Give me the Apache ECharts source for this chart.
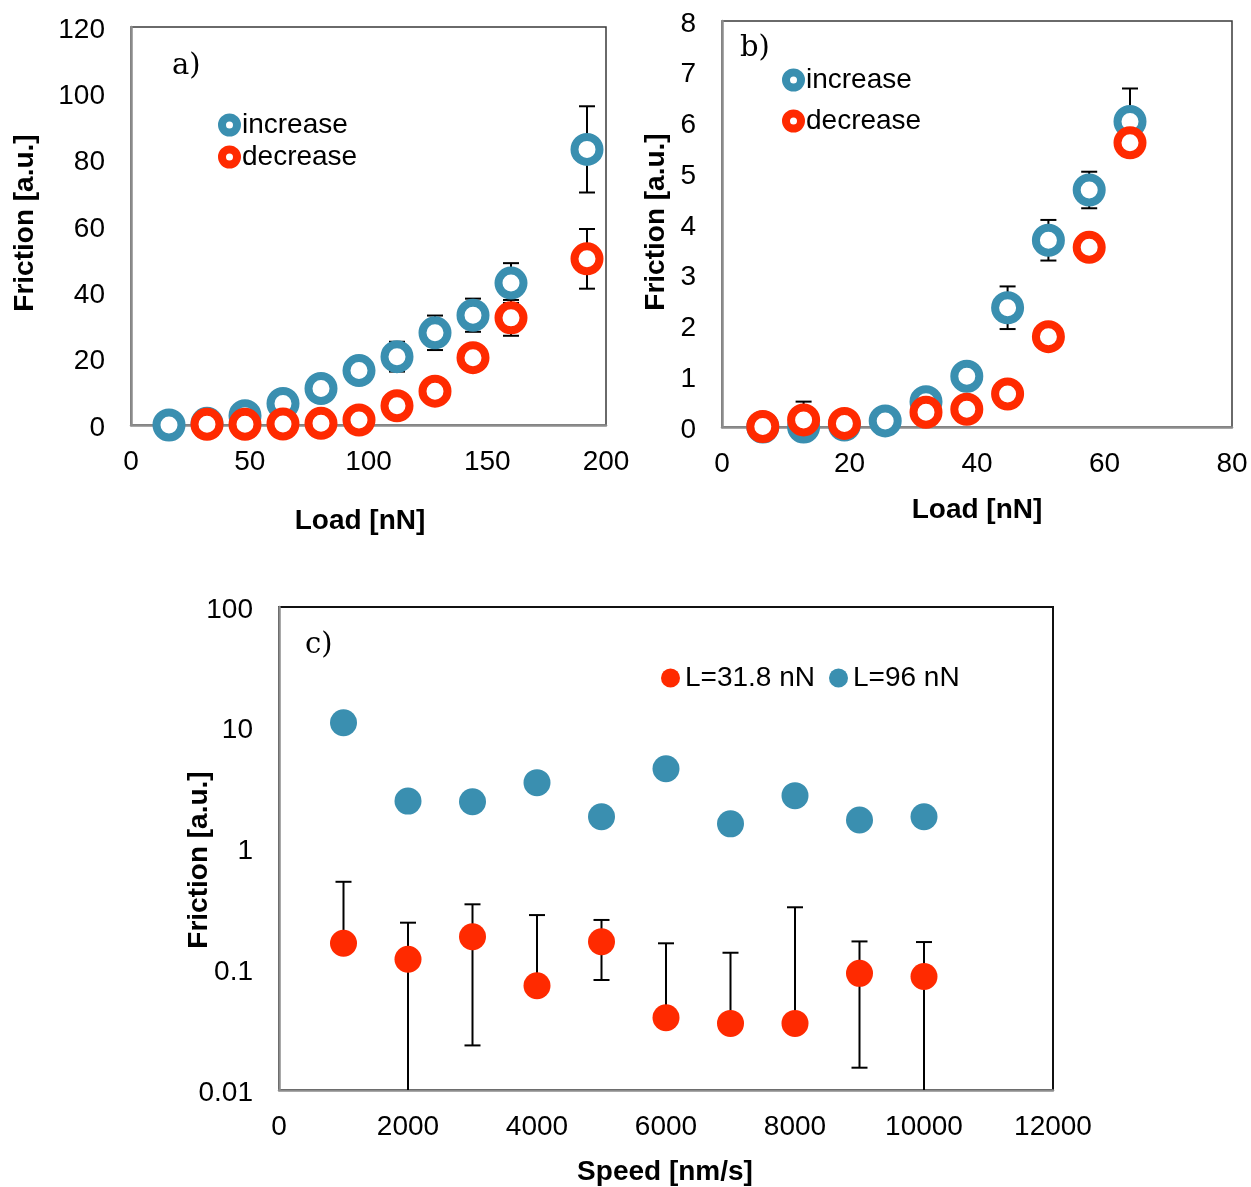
<!DOCTYPE html>
<html><head><meta charset="utf-8">
<script src="https://cdn.jsdelivr.net/npm/echarts@6/dist/echarts.min.js"></script>
<style>html,body{margin:0;padding:0;background:#fff}#c{width:1251px;height:1187px}</style>
</head><body><div id="c"></div><script>
// ---- Panel a) ----
const loadIncA = [16, 32, 48, 64, 80, 96, 112, 128, 144, 160, 192];
const incA     = [0, 0.5, 2.8, 6.5, 11, 16.4, 20.6, 27.8, 33.1, 42.8, 83.1];
const incAErr  = [0, 0, 0, 0, 0, 0, 4.5, 5.2, 5, 6, 13];
const loadDecA = [32, 48, 64, 80, 96, 112, 128, 144, 160, 192];
const decA     = [0.2, 0.2, 0.3, 0.5, 1.5, 5.8, 10.2, 20.3, 32.3, 50.1];
const decAErr  = [0, 0, 0, 0, 0, 0, 0, 0, 5.4, 9];
const ticksAX = [0, 50, 100, 150, 200];
const ticksAY = [0, 20, 40, 60, 80, 100, 120];
// ---- Panel b) ----
const loadIncB = [6.4, 12.8, 19.2, 25.6, 32, 38.4, 44.8, 51.2, 57.6, 64];
const incB     = [0.0, 0.0, 0.04, 0.12, 0.5, 1.0, 2.35, 3.68, 4.67, 6.02];
const incBErr  = [0, 0, 0, 0, 0, 0, 0.42, 0.4, 0.36, 0.65];
const loadDecB = [6.4, 12.8, 19.2, 32, 38.4, 44.8, 51.2, 57.6, 64];
const decB     = [0.01, 0.14, 0.07, 0.29, 0.35, 0.65, 1.78, 3.54, 5.60];
const decBErr  = [0, 0.36, 0, 0, 0, 0, 0, 0, 0];
const ticksBX = [0, 20, 40, 60, 80];
const ticksBY = [0, 1, 2, 3, 4, 5, 6, 7, 8];
// ---- Panel c) ----
const speed   = [1000, 2000, 3000, 4000, 5000, 6000, 7000, 8000, 9000, 10000];
const f96     = [11.0, 2.47, 2.44, 3.51, 1.83, 4.58, 1.60, 2.74, 1.72, 1.83];
const f318    = [0.164, 0.121, 0.186, 0.073, 0.169, 0.0397, 0.0356, 0.0356, 0.0925, 0.087];
const f318Hi  = [0.53, 0.243, 0.345, 0.281, 0.256, 0.164, 0.137, 0.326, 0.170, 0.168];
const f318Lo  = [0.164, 0, 0.0234, 0.073, 0.0815, 0.0397, 0.0356, 0.0356, 0.0153, 0];
const ticksCX = [0, 2000, 4000, 6000, 8000, 10000, 12000];
const ticksCY = [0.01, 0.1, 1, 10, 100];

const BLUE = '#3a8fb0', RED = '#ff2a00';
const FONT = '"Liberation Sans", Arial, sans-serif';
const TICK = 28;

function symRows(xs, ys, es) {
  const r = [];
  xs.forEach((x, i) => { if (es[i] > 0) r.push([x, ys[i], ys[i] - es[i], ys[i] + es[i]]); });
  return r;
}
function errSeries(idx, rows, axisMin, cap) {
  return {
    type: 'custom', xAxisIndex: idx, yAxisIndex: idx, z: 1, silent: true,
    data: rows, encode: { x: 0, y: 1 },
    renderItem: function (params, api) {
      const x = api.value(0), v = api.value(1);
      let lo = api.value(2), hi = api.value(3);
      const kids = [];
      const st = { stroke: '#000', lineWidth: 2 };
      const pV = api.coord([x, v]);
      if (hi > v) {
        const p = api.coord([x, hi]);
        kids.push({ type: 'line', shape: { x1: p[0], y1: p[1], x2: pV[0], y2: pV[1] }, style: st });
        kids.push({ type: 'line', shape: { x1: p[0] - cap, y1: p[1], x2: p[0] + cap, y2: p[1] }, style: st });
      }
      if (lo < v) {
        const clipped = lo <= axisMin;
        const p = api.coord([x, clipped ? axisMin : lo]);
        kids.push({ type: 'line', shape: { x1: p[0], y1: p[1], x2: pV[0], y2: pV[1] }, style: st });
        if (!clipped) kids.push({ type: 'line', shape: { x1: p[0] - cap, y1: p[1], x2: p[0] + cap, y2: p[1] }, style: st });
      }
      return { type: 'group', children: kids };
    }
  };
}
function ring(name, idx, xs, ys, col) {
  return {
    name: name, type: 'scatter', xAxisIndex: idx, yAxisIndex: idx, z: 3,
    symbol: 'circle', symbolSize: 25,
    itemStyle: { color: '#fff', borderColor: col, borderWidth: 8, opacity: 1 },
    data: xs.map((x, i) => [x, ys[i]])
  };
}
function dots(name, idx, xs, ys, col) {
  return {
    name: name, type: 'scatter', xAxisIndex: idx, yAxisIndex: idx, z: 3,
    symbol: 'circle', symbolSize: 27,
    itemStyle: { color: col, opacity: 1 },
    data: xs.map((x, i) => [x, ys[i]])
  };
}
const plain = v => String(v);
const plainShift = v => '{s|' + v + '}';
function xAx(idx, min, max, interval) {
  return {
    type: 'value', gridIndex: idx, min: min, max: max, interval: interval,
    axisLine: { show: true, onZero: false, lineStyle: { color: '#8c8c8c', width: 2.5 } },
    axisTick: { show: false }, splitLine: { show: false },
    axisLabel: { color: '#000', fontSize: TICK, fontFamily: FONT, margin: 23, formatter: plain }
  };
}
function yAx(idx, min, max, interval, type) {
  const a = {
    type: type || 'value', gridIndex: idx, min: min, max: max,
    axisLine: { show: true, onZero: false, lineStyle: { color: '#8c8c8c', width: 2.5 } },
    axisTick: { show: false }, splitLine: { show: false },
    axisLabel: { color: '#000', fontSize: TICK, fontFamily: FONT, margin: 26, formatter: plainShift,
      rich: { s: { fontSize: TICK, fontFamily: FONT, color: '#000', padding: [6, 0, 0, 0] } } }
  };
  if (interval) a.interval = interval;
  if (type === 'log') a.logBase = 10;
  return a;
}
function ylabel(x, y, t) {
  return { type: 'text', x: x, y: y, rotation: Math.PI / 2,
    style: { text: t, font: 'bold 28px ' + FONT, fill: '#000', align: 'center', verticalAlign: 'middle' } };
}
function xlabel(x, y, t) {
  return { type: 'text', x: x, y: y,
    style: { text: t, font: 'bold 28px ' + FONT, fill: '#000', align: 'center', verticalAlign: 'middle' } };
}
function panel(x, y, t) {
  return { type: 'text', x: x, y: y,
    style: { text: t, font: '29px "DejaVu Serif", "Liberation Serif", serif', fill: '#000', align: 'left', verticalAlign: 'middle' } };
}
const ringLegend = (n, col) => ({ name: n, icon: 'circle',
  itemStyle: { color: '#fff', borderColor: col, borderWidth: 8 } });

const chart = echarts.init(document.getElementById('c'), null, { renderer: 'canvas' });
chart.setOption({
  animation: false,
  backgroundColor: '#fff',
  grid: [
    { left: 131, top: 27, width: 475, height: 398, show: true, borderColor: '#3a3a3a', borderWidth: 1.5 },
    { left: 722, top: 21, width: 510, height: 406, show: true, borderColor: '#3a3a3a', borderWidth: 1.5 },
    { left: 279, top: 607, width: 774, height: 483, show: true, borderColor: '#111', borderWidth: 2 }
  ],
  xAxis: [xAx(0, ticksAX[0], ticksAX[ticksAX.length - 1], 50),
          xAx(1, ticksBX[0], ticksBX[ticksBX.length - 1], 20),
          xAx(2, ticksCX[0], ticksCX[ticksCX.length - 1], 2000)],
  yAxis: [yAx(0, ticksAY[0], ticksAY[ticksAY.length - 1], 20),
          yAx(1, ticksBY[0], ticksBY[ticksBY.length - 1], 1),
          yAx(2, ticksCY[0], ticksCY[ticksCY.length - 1], null, 'log')],
  legend: [
    { orient: 'vertical', left: 218, top: 111, padding: 0, itemGap: 4, itemWidth: 15, itemHeight: 15,
      textStyle: { fontSize: 28, fontFamily: FONT, color: '#000' },
      data: [ringLegend('increase', BLUE), ringLegend('decrease', RED)] },
    { orient: 'vertical', left: 782, top: 66, padding: 0, itemGap: 13, itemWidth: 15, itemHeight: 15,
      textStyle: { fontSize: 28, fontFamily: FONT, color: '#000' },
      data: [ringLegend('increase', BLUE), ringLegend('decrease', RED)] },
    { orient: 'horizontal', left: 661, top: 664, padding: 0, itemGap: 14, itemWidth: 19, itemHeight: 19,
      textStyle: { fontSize: 28, fontFamily: FONT, color: '#000' },
      data: [{ name: 'L=31.8 nN', icon: 'circle' }, { name: 'L=96 nN', icon: 'circle' }] }
  ],
  graphic: [
    ylabel(25, 223, 'Friction [a.u.]'), xlabel(360, 521, 'Load [nN]'), panel(172, 66, 'a)'),
    ylabel(656, 222, 'Friction [a.u.]'), xlabel(977, 510, 'Load [nN]'), panel(740, 48, 'b)'),
    ylabel(199, 860, 'Friction [a.u.]'), xlabel(665, 1172, 'Speed [nm/s]'), panel(305, 645, 'c)')
  ],
  series: [
    errSeries(0, symRows(loadIncA, incA, incAErr).concat(symRows(loadDecA, decA, decAErr)), 0, 8),
    ring('increase', 0, loadIncA, incA, BLUE),
    ring('decrease', 0, loadDecA, decA, RED),
    errSeries(1, symRows(loadIncB, incB, incBErr).concat(symRows(loadDecB, decB, decBErr)), 0, 8),
    ring('increase', 1, loadIncB, incB, BLUE),
    ring('decrease', 1, loadDecB, decB, RED),
    errSeries(2, speed.map((s, i) => [s, f318[i], f318Lo[i], f318Hi[i]]), ticksCY[0], 8),
    dots('L=96 nN', 2, speed, f96, BLUE),
    dots('L=31.8 nN', 2, speed, f318, RED)
  ]
});
</script></body></html>
